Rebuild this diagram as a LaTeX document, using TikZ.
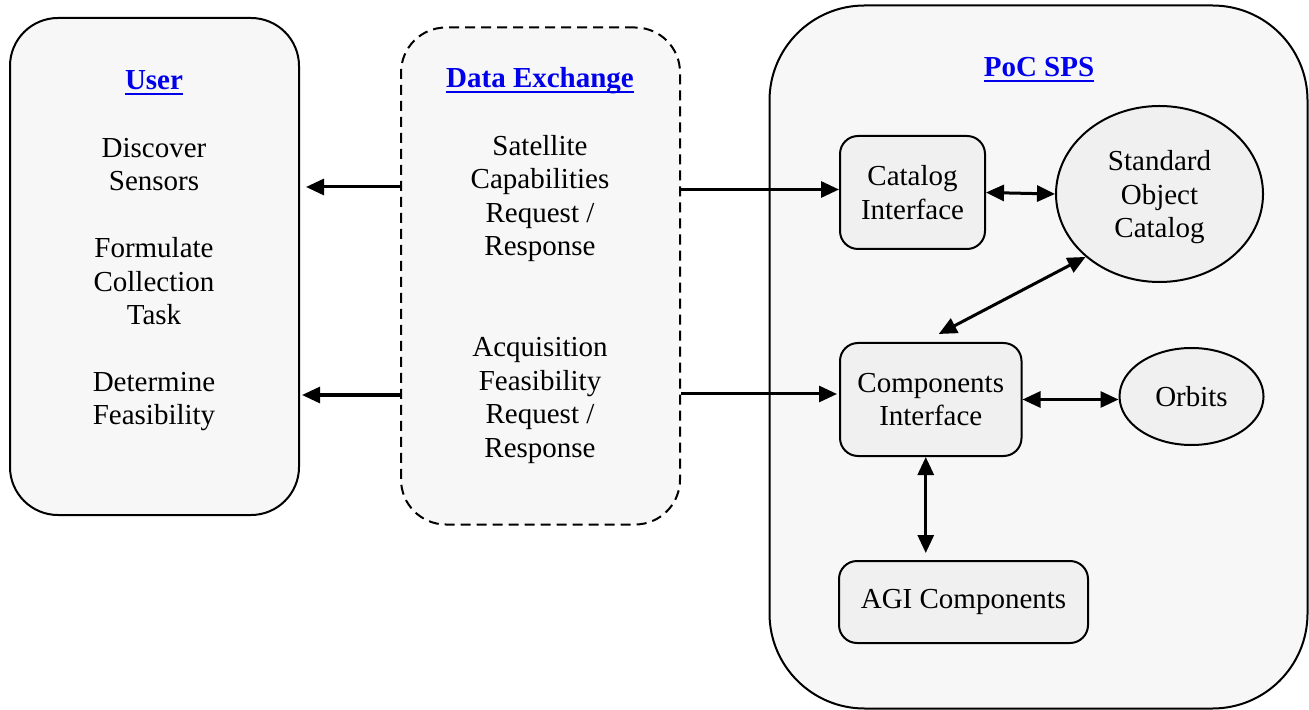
\documentclass[tikz,border=0pt]{standalone}
\usepackage{fontspec}
\setmainfont{Liberation Serif}
\usetikzlibrary{arrows.meta,shapes.geometric}
\definecolor{panelfill}{RGB}{247,247,247}
\definecolor{boxfill}{RGB}{240,240,240}
\definecolor{titleblue}{RGB}{0,0,235}
\newlength\ttlwd
\newcommand\titletext[1]{\settowidth\ttlwd{#1}\rlap{#1}\rule[-2.8pt]{\ttlwd}{1.3pt}}
\begin{document}
\begin{tikzpicture}[x=0.5pt,y=-0.5pt,
  txt/.style={font=\fontsize{14.5pt}{16.75pt}\selectfont, align=center, inner sep=0pt},
  ttl/.style={font=\fontsize{14.5pt}{16.75pt}\selectfont\bfseries, text=titleblue, inner sep=0pt},
  panel/.style={draw, line width=1pt, fill=panelfill, inner sep=0pt},
  block/.style={draw, line width=1pt, fill=boxfill, rounded corners=9pt, inner sep=0pt,
    font=\fontsize{14.5pt}{16.75pt}\selectfont, align=center},
  oval/.style={draw, ellipse, line width=1pt, fill=boxfill, inner sep=0pt,
    font=\fontsize{14.5pt}{16.75pt}\selectfont, align=center},
  arr/.style={line width=1.5pt, -{Triangle[length=9pt,width=8pt]}},
  biarr/.style={line width=1.5pt, {Triangle[length=9pt,width=8pt]}-{Triangle[length=9pt,width=8pt]}}
]
\useasboundingbox (0,0) rectangle (1309,710);

% three panels
\node[panel, rounded corners=24pt, minimum width=144.5pt, minimum height=248.5pt] (user) at (154.5,266.5) {};
\node[panel, dashed, dash pattern=on 5pt off 3pt, rounded corners=22.5pt, minimum width=139.5pt, minimum height=248.5pt] (de) at (540.5,276) {};
\node[panel, rounded corners=47.5pt, minimum width=269pt, minimum height=351.5pt] (sps) at (1038.5,357) {};

% panel titles
\node[ttl] (tuser) at (154,83) {\titletext{User}};
\node[ttl] (tde) at (540,81) {\titletext{Data Exchange}};
\node[ttl] (tsps) at (1039,70) {\titletext{PoC SPS}};

% user activities
\node[txt] (u1) at (154,164.5) {Discover\\Sensors};
\node[txt] (u2) at (154,281.5) {Formulate\\Collection\\Task};
\node[txt] (u3) at (154,401.5) {Determine\\Feasibility};

% exchanged messages
\node[txt] (d1) at (540,198.5) {Satellite\\Capabilities\\Request /\\Response};
\node[txt] (d2) at (540,400.5) {Acquisition\\Feasibility\\Request /\\Response};

% SPS components
\node[block, minimum width=72.5pt, minimum height=56.5pt] (cat) at (912.5,192.5) {Catalog\\Interface};
\node[block, minimum width=90.75pt, minimum height=56.5pt] (comp) at (930.75,399.5) {Components\\Interface};
\node[block, minimum width=124.5pt, minimum height=41pt] (agi) at (963.5,602) {AGI Components};
\node[oval, minimum width=103.5pt, minimum height=88pt] (soc) at (1159.5,194) {\raisebox{-5.3pt}[0pt][0pt]{\parbox{60pt}{\centering Standard\\Object\\Catalog}}};
\node[oval, minimum width=72pt, minimum height=48.5pt] (orb) at (1191.5,396.5) {Orbits};

% exchange to user
\draw[arr, shorten >=3pt] (de.west |- 0,187) -- (user.east |- 0,187);
\draw[arr, shorten >=1pt] (de.west |- 0,395) -- (user.east |- 0,395);

% exchange to SPS interfaces
\draw[arr] (de.east |- 0,189.5) -- (cat.west |- 0,189.5);
\draw[arr, shorten >=1pt] (de.east |- 0,394) -- (comp.west |- 0,394);

% links inside the SPS
\draw[biarr] (cat.east) -- (soc.west);
\draw[biarr] ([shift={(8,-8)}]comp.north) -- (soc.south west);
\draw[biarr] (comp.east) -- (comp.east -| orb.west);
\draw[biarr, shorten >=3.5pt] ([xshift=-2.5pt]comp.south) -- ([xshift=-2.5pt]comp.south |- agi.north);
\end{tikzpicture}
\end{document}
